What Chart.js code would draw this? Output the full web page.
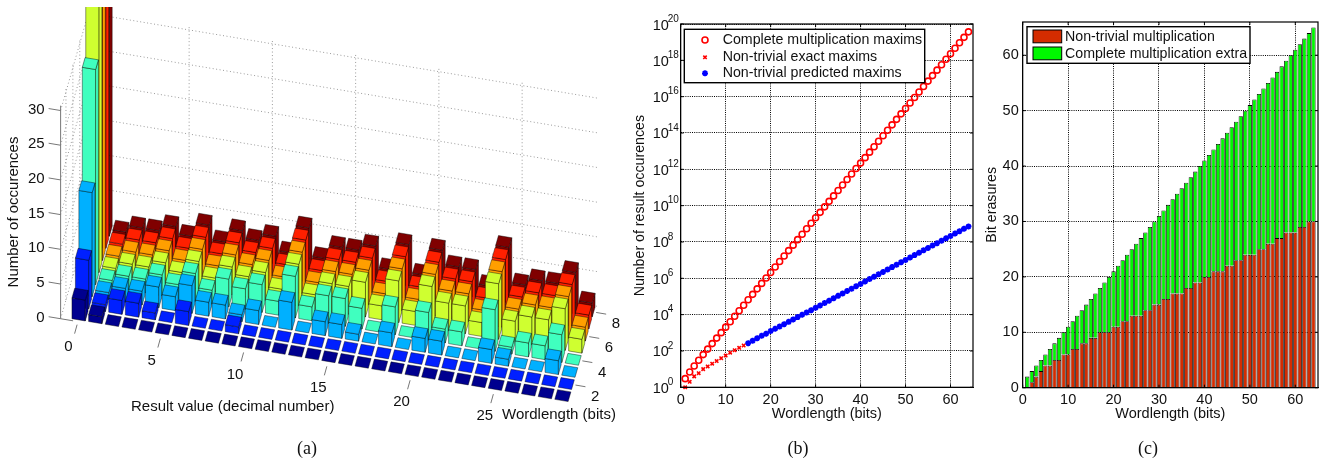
<!DOCTYPE html>
<html>
<head>
<meta charset="utf-8">
<title>Result occurrences</title>
<script src="https://cdn.jsdelivr.net/npm/chart.js@4/dist/chart.umd.min.js"></script>
<style>
  html, body { margin: 0; padding: 0; background: #fff; }
  #page { position: relative; width: 1329px; height: 464px; overflow: hidden; }
  canvas { position: absolute; top: 0; }
  #chartA { left: 0; }
  #chartB { left: 630px; }
  #chartC { left: 980px; }
  .caption { position: absolute; top: 438px; font: 18px "Liberation Serif", serif; color: #111; transform: translateX(-50%); }
</style>
</head>
<body>
<div id="page">
  <canvas id="chartA" width="630" height="464"></canvas>
  <canvas id="chartB" width="350" height="464"></canvas>
  <canvas id="chartC" width="349" height="464"></canvas>
  <div class="caption" style="left:307px">(a)</div>
  <div class="caption" style="left:798px">(b)</div>
  <div class="caption" style="left:1148px">(c)</div>
</div>
<script>
// (a) occurrences of each result value 0..29, one list per wordlength
const resultValues = [0,1,2,3,4,5,6,7,8,9,10,11,12,13,14,15,16,17,18,19,20,21,22,23,24,25,26,27,28,29];
const occurrences1 = [3,1,0,0,0,0,0,0,0,0,0,0,0,0,0,0,0,0,0,0,0,0,0,0,0,0,0,0,0,0];
const occurrences2 = [7,1,2,2,1,0,2,0,0,1,0,0,0,0,0,0,0,0,0,0,0,0,0,0,0,0,0,0,0,0];
const occurrences3 = [15,1,2,2,3,2,4,2,2,1,2,0,4,0,2,2,1,0,2,0,2,2,0,0,2,1,0,0,2,0];
const occurrences4 = [31,1,2,2,3,2,4,2,4,3,4,2,6,2,4,4,3,0,4,0,4,2,2,0,6,1,2,2,4,0];
const occurrences5 = [63,1,2,2,3,2,4,2,4,3,4,2,6,2,4,4,5,2,6,2,6,4,4,2,8,3,4,4,6,2];
const occurrences6 = [127,1,2,2,3,2,4,2,4,3,4,2,6,2,4,4,5,2,6,2,6,4,4,2,8,3,4,4,6,2];
const occurrences7 = [255,1,2,2,3,2,4,2,4,3,4,2,6,2,4,4,5,2,6,2,6,4,4,2,8,3,4,4,6,2];
const occurrences8 = [511,1,2,2,3,2,4,2,4,3,4,2,6,2,4,4,5,2,6,2,6,4,4,2,8,3,4,4,6,2];
const rowColors = ['#00008f','#0020ff','#00b0ff','#40ffbf','#cfff30','#ff9f00','#ff2000','#800000'];
const countTicks = [0,5,10,15,20,25,30];
const valueTicks = [0,5,10,15,20,25];
const wordTicks = [2,4,6,8];

// (b) maxims against wordlength
const wordlengths = [1,2,3,4,5,6,7,8,9,10,11,12,13,14,15,16,17,18,19,20,21,22,23,24,25,26,27,28,29,30,31,32,
  33,34,35,36,37,38,39,40,41,42,43,44,45,46,47,48,49,50,51,52,53,54,55,56,57,58,59,60,61,62,63,64];
const completeMaxims = [3,7,15,31,63,127,255,511,1023,2047,4095,8191,16383,32767,65535,131071,
  262143,524287,1.05e6,2.1e6,4.19e6,8.39e6,1.68e7,3.36e7,6.71e7,1.34e8,2.68e8,5.37e8,1.07e9,2.15e9,4.29e9,8.59e9,
  1.72e10,3.44e10,6.87e10,1.37e11,2.75e11,5.5e11,1.1e12,2.2e12,4.4e12,8.8e12,1.76e13,3.52e13,7.04e13,1.41e14,2.81e14,5.63e14,
  1.13e15,2.25e15,4.5e15,9.01e15,1.8e16,3.6e16,7.21e16,1.44e17,2.88e17,5.76e17,1.15e18,2.31e18,4.61e18,9.22e18,1.84e19,3.69e19];
const exactWordlengths = [1,2,3,4,5,6,7,8,9,10,11,12,13,14];
const exactMaxims = [1,2,4,6,10,14,20,28,40,56,80,110,150,200];
const predictedWordlengths = [15,16,17,18,19,20,21,22,23,24,25,26,27,28,29,30,31,32,33,34,35,36,37,38,39,
  40,41,42,43,44,45,46,47,48,49,50,51,52,53,54,55,56,57,58,59,60,61,62,63,64];
const predictedMaxims = [270,370,500,680,900,1250,1650,2250,3000,4000,5400,7300,9800,13200,17500,24000,
  32000,43500,59000,80000,108000,146000,198000,268000,363000,492000,667000,904000,
  1.22e6,1.66e6,2.25e6,3.05e6,4.13e6,5.6e6,7.6e6,1.03e7,1.39e7,1.89e7,2.56e7,3.47e7,4.7e7,6.37e7,8.6e7,
  1.17e8,1.58e8,2.15e8,2.91e8,3.94e8,5.34e8,7.2e8];
const powerTicks = [0,2,4,6,8,10,12,14,16,18,20];

// (c) bit erasures, stacked
const nonTrivialErasures = [0,1,2,3,4,4,5,5,6,6,7,7,8,8,9,9,10,10,10,11,11,12,12,13,13,13,14,14,15,15,16,16,
  17,17,17,18,18,19,19,20,20,21,21,21,22,22,23,23,24,24,24,25,25,26,26,27,27,28,28,28,29,29,30,30];
const completeExtra = [2,2,2,2,2,3,3,4,4,5,5,6,6,7,7,8,8,9,10,10,11,11,12,12,13,14,14,15,15,16,16,17,
  17,18,19,19,20,20,21,21,22,22,23,24,24,25,25,26,26,27,28,28,29,29,30,30,31,31,32,33,33,34,34,35];

Chart.defaults.font.family = '"Liberation Sans", Arial, sans-serif';
Chart.defaults.font.size = 14.5;
Chart.defaults.color = '#111';
Chart.defaults.animation = false;

const LABEL_FONT = '15px "Liberation Sans", Arial, sans-serif';
const TEXT_FONT = '14.5px "Liberation Sans", Arial, sans-serif';
const LEGEND_FONT = '14.2px "Liberation Sans", Arial, sans-serif';
const SMALL_FONT = '10px "Liberation Sans", Arial, sans-serif';
const GRID_DASH = [1, 1.2];

// oblique view used by panel (a): one result value and one wordlength step on screen
const VALUE_DROP = 2.78;
const WORD_DX = 3.45;
const WORD_DY = -12.1;
const HALF_BAR = 0.4;

function project(chart, value, word, count) {
  const xs = chart.scales.x, ys = chart.scales.y;
  return [
    xs.getPixelForValue(value) + (word - 1) * WORD_DX,
    ys.getPixelForValue(count) + value * VALUE_DROP + (word - 1) * WORD_DY
  ];
}

function fillPath(ctx, pts, fill) {
  ctx.beginPath();
  pts.forEach((p, i) => i ? ctx.lineTo(p[0], p[1]) : ctx.moveTo(p[0], p[1]));
  ctx.closePath();
  ctx.fillStyle = fill;
  ctx.fill();
  ctx.stroke();
}

// a row of 3D bars, built on the scatter controller so it goes through the chart's scales
class Bar3dController extends Chart.ScatterController {
  draw() {
    const chart = this.chart, ctx = chart.ctx;
    const ds = this.getDataset();
    const w = ds.wordlength;
    ctx.save();
    ctx.strokeStyle = 'rgba(0,0,0,0.7)';
    ctx.lineWidth = 0.6;
    ctx.lineJoin = 'round';
    ds.data.forEach(pt => {
      const v = pt.x, h = pt.y;
      const a = project(chart, v - HALF_BAR, w - HALF_BAR, 0), a2 = project(chart, v - HALF_BAR, w - HALF_BAR, h);
      const b = project(chart, v + HALF_BAR, w - HALF_BAR, 0), b2 = project(chart, v + HALF_BAR, w - HALF_BAR, h);
      const c = project(chart, v + HALF_BAR, w + HALF_BAR, 0), c2 = project(chart, v + HALF_BAR, w + HALF_BAR, h);
      const d2 = project(chart, v - HALF_BAR, w + HALF_BAR, h);
      if (h > 0) {
        fillPath(ctx, [a, b, b2, a2], ds.backgroundColor);
        fillPath(ctx, [b, c, c2, b2], ds.backgroundColor);
      }
      fillPath(ctx, [a2, b2, c2, d2], ds.backgroundColor);
    });
    ctx.restore();
  }
}
Bar3dController.id = 'bar3d';
Bar3dController.defaults = Chart.ScatterController.defaults;
Chart.register(Bar3dController);

function strokeLine(ctx, p, q) {
  ctx.beginPath();
  ctx.moveTo(p[0], p[1]);
  ctx.lineTo(q[0], q[1]);
  ctx.stroke();
}

const V_MIN = -1.05, V_MAX = 29.55, W_MIN = 0.45, W_MAX = 8.5, C_TOP = 30.7;

const wallsPlugin = {
  id: 'walls',
  beforeDatasetsDraw(chart) {
    const ctx = chart.ctx;
    ctx.save();
    ctx.strokeStyle = '#9a9a9a';
    ctx.lineWidth = 1;
    ctx.setLineDash([1, 2.5]);
    countTicks.forEach(c => {
      strokeLine(ctx, project(chart, V_MIN, W_MIN, c), project(chart, V_MIN, W_MAX, c));
      strokeLine(ctx, project(chart, V_MIN, W_MAX, c), project(chart, V_MAX, W_MAX, c));
    });
    valueTicks.forEach(v => {
      strokeLine(ctx, project(chart, v, W_MAX, 0), project(chart, v, W_MAX, C_TOP));
    });
    wordTicks.forEach(w => {
      strokeLine(ctx, project(chart, V_MIN, w, 0), project(chart, V_MIN, w, C_TOP));
    });
    ctx.setLineDash([]);
    ctx.strokeStyle = '#777';
    strokeLine(ctx, project(chart, V_MIN, W_MIN, 0), project(chart, V_MIN, W_MIN, C_TOP));
    strokeLine(ctx, project(chart, V_MIN, W_MIN, 0), project(chart, -0.3, W_MIN, 0));
    ctx.restore();
  },
  afterDraw(chart) {
    const ctx = chart.ctx;
    ctx.save();
    ctx.strokeStyle = '#777';
    ctx.lineWidth = 1;
    ctx.fillStyle = '#111';
    ctx.font = LABEL_FONT;
    ctx.textBaseline = 'middle';
    ctx.textAlign = 'right';
    countTicks.forEach(c => {
      const p = project(chart, V_MIN, W_MIN, c);
      strokeLine(ctx, p, [p[0] - 12, p[1] - 2]);
      ctx.fillText(String(c), p[0] - 16, p[1] - 1);
    });
    ctx.textAlign = 'center';
    valueTicks.forEach(v => {
      const p = project(chart, v, W_MIN, 0);
      strokeLine(ctx, [p[0] - 1, p[1] + 3], [p[0] - 3.5, p[1] + 12]);
      ctx.fillText(String(v), p[0] - 9.6, p[1] + 25);
    });
    wordTicks.forEach(w => {
      const p = project(chart, V_MAX, w, 0);
      strokeLine(ctx, p, [p[0] + 10, p[1] + 1.7]);
      ctx.fillText(String(w), p[0] + 19.7, p[1] + 11.7);
    });
    ctx.textAlign = 'left';
    ctx.fillText('Result value (decimal number)', 131, 407);
    ctx.fillText('Wordlength (bits)', 502, 415);
    ctx.translate(14, 212);
    ctx.rotate(-Math.PI / 2);
    ctx.textAlign = 'center';
    ctx.fillText('Number of occurences', 0, 0);
    ctx.restore();
  }
};

function rowDataset(word, counts) {
  return {
    type: 'bar3d',
    label: 'Wordlength ' + word,
    wordlength: word,
    data: counts.map((c, i) => ({ x: resultValues[i], y: c })),
    backgroundColor: rowColors[word - 1],
    pointRadius: 0,
    clip: 0
  };
}

new Chart(document.getElementById('chartA'), {
  type: 'scatter',
  data: {
    datasets: [
      rowDataset(1, occurrences1), rowDataset(2, occurrences2), rowDataset(3, occurrences3), rowDataset(4, occurrences4),
      rowDataset(5, occurrences5), rowDataset(6, occurrences6), rowDataset(7, occurrences7), rowDataset(8, occurrences8)
    ]
  },
  options: {
    responsive: false,
    layout: { padding: { left: 50, right: 20, top: 7, bottom: 44 } },
    plugins: { legend: { display: false }, tooltip: { enabled: false } },
    scales: {
      x: { type: 'linear', display: false, min: -1.8018, max: 31.8318 },
      y: { type: 'linear', display: false, min: -15.13, max: 44.38 }
    }
  },
  plugins: [wallsPlugin]
});

// matlab style box with inward ticks on all four sides
const boxPlugin = {
  id: 'box',
  afterDraw(chart) {
    const ctx = chart.ctx, a = chart.chartArea;
    ctx.save();
    ctx.strokeStyle = '#000';
    ctx.lineWidth = 1;
    chart.scales.x.ticks.forEach(t => {
      const x = chart.scales.x.getPixelForValue(t.value);
      strokeLine(ctx, [x, a.bottom], [x, a.bottom - 3]);
      strokeLine(ctx, [x, a.top], [x, a.top + 3]);
    });
    chart.scales.y.ticks.forEach(t => {
      const y = chart.scales.y.getPixelForValue(t.value);
      strokeLine(ctx, [a.left, y], [a.left + 3, y]);
      strokeLine(ctx, [a.right, y], [a.right - 3, y]);
    });
    ctx.lineWidth = 1.2;
    ctx.strokeRect(a.left, a.top, a.right - a.left, a.bottom - a.top);
    ctx.restore();
  }
};

const powerLabels = {
  id: 'powerLabels',
  afterDraw(chart) {
    const ctx = chart.ctx, ys = chart.scales.y;
    ctx.save();
    ctx.fillStyle = '#111';
    ctx.textAlign = 'left';
    ctx.textBaseline = 'middle';
    powerTicks.forEach(e => {
      const y = ys.getPixelForValue(Math.pow(10, e));
      ctx.font = TEXT_FONT;
      ctx.fillText('10', 22.7, y + 1.5);
      ctx.font = SMALL_FONT;
      ctx.fillText(String(e), 37.7, y - 5);
    });
    ctx.restore();
  }
};

const legendB = {
  id: 'legendB',
  afterDraw(chart) {
    const ctx = chart.ctx;
    ctx.save();
    ctx.fillStyle = '#fff';
    ctx.strokeStyle = '#000';
    ctx.lineWidth = 1.4;
    ctx.fillRect(54.3, 29.3, 240.4, 53.4);
    ctx.strokeRect(54.3, 29.3, 240.4, 53.4);
    ctx.font = LEGEND_FONT;
    ctx.textBaseline = 'middle';
    [40, 57.3, 73.3].forEach((y, i) => {
      const ds = chart.data.datasets[i];
      ctx.fillStyle = '#111';
      ctx.fillText(ds.label, 92.7, y);
      ctx.strokeStyle = ds.borderColor;
      ctx.fillStyle = ds.backgroundColor;
      ctx.lineWidth = ds.borderWidth;
      Chart.helpers.drawPoint(ctx, { pointStyle: ds.pointStyle, radius: ds.pointRadius, rotation: 0, borderWidth: ds.borderWidth }, 75, y);
    });
    ctx.restore();
  }
};

new Chart(document.getElementById('chartB'), {
  type: 'scatter',
  data: {
    datasets: [
      {
        label: 'Complete multiplication maxims',
        data: wordlengths.map((w, i) => ({ x: w, y: completeMaxims[i] })),
        pointStyle: 'circle', pointRadius: 3, borderWidth: 1.6,
        borderColor: '#ff0000', backgroundColor: 'rgba(255,255,255,0)', clip: 5
      },
      {
        label: 'Non-trivial exact maxims',
        data: exactWordlengths.map((w, i) => ({ x: w, y: exactMaxims[i] })),
        pointStyle: 'crossRot', pointRadius: 2.4, borderWidth: 1.6,
        borderColor: '#ff0000', backgroundColor: '#ff0000', clip: 5
      },
      {
        label: 'Non-trivial predicted maxims',
        data: predictedWordlengths.map((w, i) => ({ x: w, y: predictedMaxims[i] })),
        pointStyle: 'star', pointRadius: 3, borderWidth: 1.8,
        borderColor: '#0000ff', backgroundColor: '#0000ff', clip: 5
      }
    ]
  },
  options: {
    responsive: false,
    layout: { padding: { left: 0, right: 7, top: 24, bottom: 40 } },
    plugins: { legend: { display: false }, tooltip: { enabled: false } },
    scales: {
      x: {
        type: 'linear', min: 0, max: 65,
        afterFit: s => { s.height = 36.7; },
        ticks: { stepSize: 10, padding: 4, maxRotation: 0, includeBounds: false },
        grid: { color: '#000', drawTicks: false, lineWidth: 1 },
        border: { color: '#000', dash: GRID_DASH },
        title: { display: true, text: 'Wordlength (bits)', font: { size: 14.5 }, padding: { top: 0, bottom: 1.6 } }
      },
      y: {
        type: 'logarithmic', min: 1, max: 1e20,
        afterFit: s => { s.width = 50.7; },
        afterBuildTicks: s => { s.ticks = powerTicks.map(e => ({ value: Math.pow(10, e) })); },
        ticks: { display: false },
        grid: { color: '#000', drawTicks: false, lineWidth: 1 },
        border: { color: '#000', dash: GRID_DASH },
        title: { display: true, text: 'Number of result occurences', font: { size: 14.2 }, padding: { top: 1.6, bottom: 0 } }
      }
    }
  },
  plugins: [boxPlugin, powerLabels, legendB]
});

const legendC = {
  id: 'legendC',
  afterDraw(chart) {
    const ctx = chart.ctx;
    ctx.save();
    ctx.fillStyle = '#fff';
    ctx.strokeStyle = '#000';
    ctx.lineWidth = 1.4;
    ctx.fillRect(47, 26.7, 223, 36.6);
    ctx.strokeRect(47, 26.7, 223, 36.6);
    ctx.font = LEGEND_FONT;
    ctx.textBaseline = 'middle';
    [[30, 37], [47, 54]].forEach((pos, i) => {
      const ds = chart.data.datasets[i];
      ctx.fillStyle = ds.backgroundColor;
      ctx.lineWidth = 1;
      ctx.fillRect(53, pos[0], 28.7, 12.8);
      ctx.strokeRect(53, pos[0], 28.7, 12.8);
      ctx.fillStyle = '#111';
      ctx.fillText(ds.label, 85, pos[1]);
    });
    ctx.restore();
  }
};

new Chart(document.getElementById('chartC'), {
  type: 'bar',
  data: {
    datasets: [
      {
        label: 'Non-trivial multiplication',
        data: wordlengths.map((w, i) => ({ x: w, y: nonTrivialErasures[i] })),
        backgroundColor: '#d42c00', borderColor: '#000', borderWidth: 0.8,
        barPercentage: 0.95, categoryPercentage: 1
      },
      {
        label: 'Complete multiplication extra',
        data: wordlengths.map((w, i) => ({ x: w, y: completeExtra[i] })),
        backgroundColor: '#00f800', borderColor: '#000', borderWidth: 0.8,
        barPercentage: 0.95, categoryPercentage: 1
      }
    ]
  },
  options: {
    responsive: false,
    layout: { padding: { left: 0, right: 11, top: 22, bottom: 40 } },
    plugins: { legend: { display: false }, tooltip: { enabled: false } },
    scales: {
      x: {
        type: 'linear', stacked: true, min: 0, max: 65, offset: false,
        afterFit: s => { s.height = 36.3; },
        ticks: { stepSize: 10, padding: 4, maxRotation: 0, includeBounds: false },
        grid: { color: '#000', drawTicks: false, lineWidth: 1, offset: false },
        border: { color: '#000', dash: GRID_DASH },
        title: { display: true, text: 'Wordlength (bits)', font: { size: 14.5 }, padding: { top: 0, bottom: 1.6 } }
      },
      y: {
        type: 'linear', stacked: true, min: 0, max: 66,
        afterFit: s => { s.width = 42.7; },
        ticks: { stepSize: 10, padding: 4, includeBounds: false },
        grid: { color: '#000', drawTicks: false, lineWidth: 1 },
        border: { color: '#000', dash: GRID_DASH },
        title: { display: true, text: 'Bit erasures', font: { size: 14.2 }, padding: { top: 3.6, bottom: 0 } }
      }
    }
  },
  plugins: [boxPlugin, legendC]
});
</script>
</body>
</html>
